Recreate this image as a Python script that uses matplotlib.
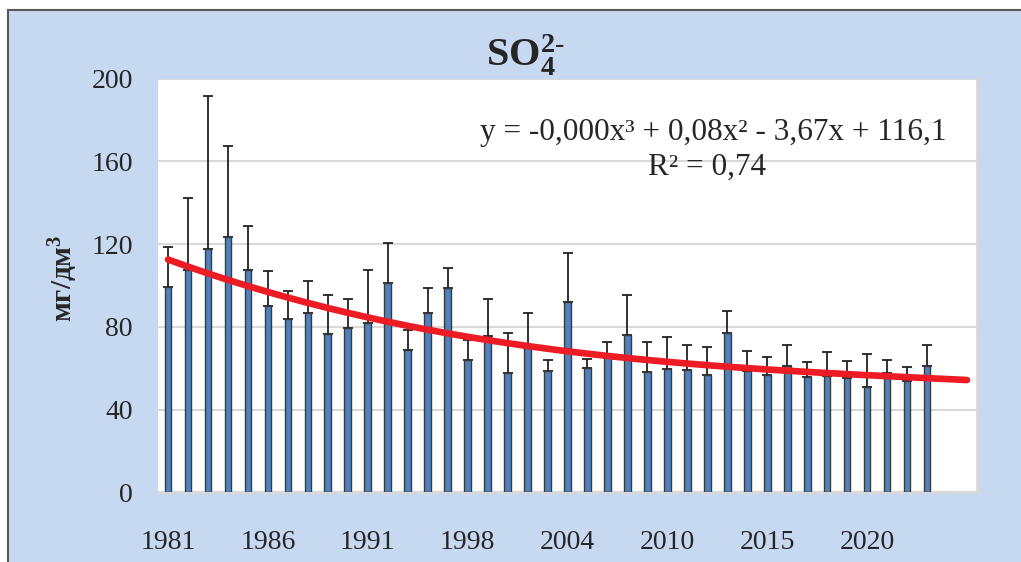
import numpy as np
import matplotlib
matplotlib.use("Agg")
import matplotlib.pyplot as plt
from matplotlib.patches import Rectangle

# SO4 concentration, mean per year and upper whisker (mean + sd)
years = [1981, 1982, 1983, 1984, 1985, 1986, 1987, 1988, 1989, 1990,
         1991, 1992, 1993, 1994, 1996, 1998, 1999, 2000, 2002, 2003,
         2004, 2005, 2006, 2007, 2009, 2010, 2011, 2012, 2013, 2014,
         2015, 2016, 2017, 2018, 2019, 2020, 2021, 2022, 2023]
mean_vals = [99.3, 107.7, 117.7, 123.3, 107.4, 90.3, 83.6, 86.5, 76.5, 79.4,
             81.9, 101.3, 68.9, 86.8, 98.7, 63.8, 75.4, 57.5, 69.6, 58.5,
             92.1, 59.9, 66.3, 76.0, 58.1, 59.4, 59.0, 56.5, 76.8, 58.8,
             56.7, 61.0, 55.8, 56.3, 55.1, 51.0, 57.8, 53.6, 60.9]
upper_vals = [118.6, 142.5, 191.8, 167.4, 129.0, 107.2, 97.2, 102.2, 95.2, 93.7,
              107.4, 120.4, 78.4, 99.0, 108.4, 73.6, 93.7, 76.8, 86.5, 63.8,
              115.5, 64.5, 72.6, 95.3, 72.6, 75.2, 71.2, 70.3, 87.7, 68.1,
              65.2, 71.0, 63.1, 67.9, 63.6, 66.8, 63.9, 60.5, 71.2]
forecast_periods = 2
y_ticks = [0, 40, 80, 120, 160, 200]

plt.rcParams['font.family'] = ['Liberation Serif', 'DejaVu Serif']
plt.rcParams['mathtext.fontset'] = 'custom'
plt.rcParams['mathtext.rm'] = 'Liberation Serif'
plt.rcParams['mathtext.it'] = 'Liberation Serif:italic'
plt.rcParams['mathtext.bf'] = 'Liberation Serif:bold'

BG = '#C6D9F1'
GRID = '#D9D9D9'

fig = plt.figure(figsize=(10.21, 5.62), dpi=100, facecolor='white')
# chart frame (cropped at right/bottom)
fig.patches.append(Rectangle((8 / 1021, -0.1), 1.2, 1 - 10 / 562 + 0.1,
                             transform=fig.transFigure, facecolor=BG,
                             edgecolor='#595959', linewidth=1.5, zorder=-5))

ax = fig.add_axes([158 / 1021, 1 - 492.3 / 562, (977 - 158) / 1021, (492.3 - 78.7) / 562])
ax.set_facecolor('white')
ax.set_zorder(1)

x = np.arange(len(mean_vals))
means = np.array(mean_vals)
err_up = np.array(upper_vals) - means

ax.bar(x, means, width=0.33, color='#4F81BD', edgecolor='#3A3A3A', linewidth=1.0, zorder=3)
ax.errorbar(x, means, yerr=[np.zeros_like(means), err_up], fmt='none',
            ecolor='#222222', elinewidth=1.3, capsize=3.5, capthick=1.3, zorder=2)

# polynomial trend (order 3), Excel-style x = 1..n, extended forward
xe = x + 1
coef = np.polyfit(xe, means, 3)
xt = np.linspace(1, len(means) + forecast_periods, 200)
ax.plot(xt - 1, np.polyval(coef, xt), color='#ED1C24', linewidth=4.8,
        solid_capstyle='round', zorder=5)

ax.set_ylim(0, 200)
ax.set_xlim(-0.5, len(means) + forecast_periods - 0.5)
ax.set_yticks(y_ticks)
ax.set_yticklabels([str(v) for v in y_ticks], fontsize=20, color='#262626')
ax.set_xticks(x[::5])
ax.set_xticklabels([str(years[i]) for i in x[::5]], fontsize=20, color='#262626')
ax.tick_params(axis='y', length=0, pad=18)
ax.tick_params(axis='x', length=0, pad=27)
ax.grid(axis='y', color=GRID, linewidth=1.5, zorder=0)
ax.set_axisbelow(True)
for side in ['top', 'left']:
    ax.spines[side].set_visible(False)
for side in ['right', 'bottom']:
    ax.spines[side].set_color(GRID)
    ax.spines[side].set_linewidth(2)

fig.text(63 / 1021, 1 - 278 / 562, 'мг/дм$^{\\mathbf{3}}$', rotation=90,
         fontsize=21, fontweight='bold', ha='center', va='center', color='#262626')

fig.text(525 / 1021, 1 - 67 / 562, r'$\mathbf{SO}_{\mathbf{4}}^{\mathbf{2\text{-}}}$',
         fontsize=29, ha='center', va='baseline', color='#262626')

fig.text(713 / 1021, 1 - 140 / 562, 'y = -0,000x³ + 0,08x² - 3,67x + 116,1',
         fontsize=22.5, ha='center', va='baseline', color='#262626')
fig.text(707 / 1021, 1 - 175 / 562, 'R² = 0,74',
         fontsize=22.5, ha='center', va='baseline', color='#262626')

fig.savefig('out.png', dpi=100, facecolor=fig.get_facecolor())
